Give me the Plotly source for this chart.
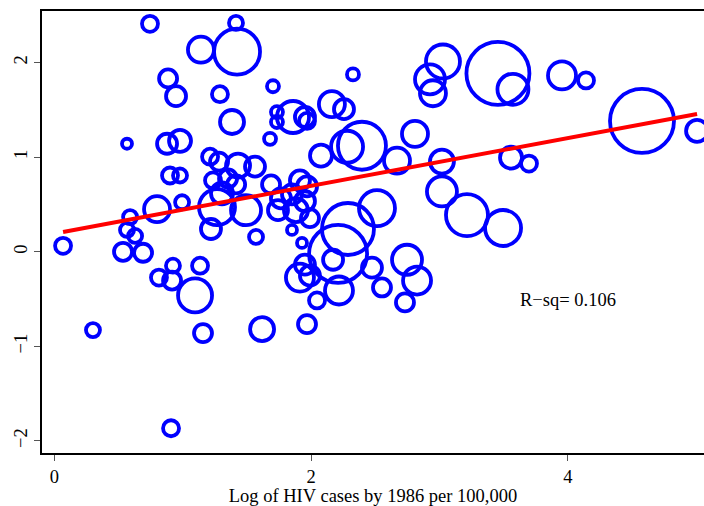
import plotly.graph_objects as go

# Log of HIV cases by 1986 per 100,000 (x), outcome (y), weight (bubble area)
log_hiv = [0.068, 0.301, 0.535, 0.691, 0.566, 0.629, 0.590, 0.800, 0.995, 0.566,
           0.878, 0.979, 0.901, 0.979, 0.745, 0.886, 0.948, 0.909, 0.815, 0.924,
           0.917, 1.096, 1.135, 1.158, 1.415, 1.423, 1.142, 1.290, 1.703, 1.384,
           1.734, 1.734, 1.859, 1.952, 1.968, 2.162, 2.256, 2.326, 1.680, 2.077,
           2.280, 2.396, 2.809, 2.669, 3.019, 3.027, 2.926, 2.949, 3.455, 3.572,
           3.954, 4.141, 4.577, 5.006, 3.557, 3.697, 3.495, 3.214, 3.019, 2.825,
           2.747, 2.731, 2.552, 2.474, 2.513, 2.287, 2.210, 2.217, 2.171, 1.213,
           1.283, 1.431, 1.563, 1.236, 1.353, 1.306, 1.267, 1.493, 1.220, 1.571,
           1.688, 1.765, 1.851, 1.913, 1.968, 1.882, 1.952, 1.991, 1.851, 1.929,
           1.952, 1.913, 1.991, 2.046, 1.968, 1.618, 1.742, 1.416]
outcome = [0.063, -0.828, 0.000, -0.010, 0.231, 0.168, 0.367, 0.451, 0.524, 1.143,
           1.143, 1.174, 0.807, 0.807, 2.411, 1.834, 1.646, -1.866, -0.273, -0.147,
           -0.304, -0.461, -0.147, -0.860, 2.421, 2.117, 2.138, 1.667, 1.751, 1.373,
           1.478, 1.373, 1.426, 1.426, 1.384, 1.562, 1.509, 1.876, 1.195, 1.017,
           1.111, 1.122, 1.247, 0.964, 0.954, 2.013, 1.824, 1.677, 1.887, 1.719,
           1.866, 1.813, 1.384, 1.279, 0.996, 0.933, 0.252, 0.388, 0.639, -0.304,
           -0.084, -0.535, -0.377, -0.168, 0.461, 0.241, -0.021, -0.409, -0.084, 1.006,
           0.954, 0.912, 0.901, 0.755, 0.776, 0.618, 0.472, 0.440, 0.241, 0.157,
           0.713, 0.566, 0.608, 0.755, 0.692, 0.440, 0.535, 0.356, 0.231, 0.094,
           -0.136, -0.273, -0.252, -0.514, -0.765, -0.818, 0.440, 0.713]
weight = [2.56, 1.96, 3.24, 3.24, 1.96, 1.96, 1.96, 6.76, 1.96, 1.00,
          4.00, 4.84, 2.56, 1.96, 2.56, 3.24, 4.00, 2.56, 2.56, 1.96,
          3.24, 11.56, 2.56, 3.24, 1.96, 21.16, 6.76, 2.56, 1.44, 5.76,
          1.44, 1.44, 10.24, 4.00, 2.56, 6.76, 4.00, 1.44, 1.44, 4.84,
          10.24, 23.04, 6.76, 6.76, 5.76, 11.56, 9.00, 6.76, 39.69, 9.61,
          7.84, 2.56, 40.96, 4.84, 4.84, 2.56, 12.96, 17.64, 9.00, 7.84,
          9.00, 3.24, 3.24, 4.00, 12.96, 27.04, 33.64, 7.84, 4.00, 2.56,
          3.24, 5.76, 4.00, 2.56, 3.24, 4.84, 12.96, 9.00, 4.00, 1.96,
          3.24, 4.00, 4.00, 4.00, 4.00, 5.76, 4.00, 3.24, 1.00, 1.00,
          4.00, 7.84, 4.00, 2.56, 3.24, 5.76, 4.00, 3.24]

# fitted line
fit_intercept = 0.193
fit_slope = 0.2525
r_sq_label = "R\u2212sq= 0.106"
x_ticks = [0, 2, 4]
y_ticks = [-2, -1, 0, 1, 2]

fit_x = [min(log_hiv), max(log_hiv)]
fit_y = [fit_intercept + fit_slope * v for v in fit_x]

FONT = "Liberation Serif, Times New Roman, serif"

fig = go.Figure()
fig.add_trace(go.Scatter(
    x=log_hiv, y=outcome, mode="markers",
    marker=dict(symbol="circle-open", size=weight, sizemode="area", sizeref=0.02,
                opacity=1, color="#0000FF", line=dict(width=3.8, color="#0000FF")),
    showlegend=False, hoverinfo="skip"))
fig.add_trace(go.Scatter(
    x=fit_x, y=fit_y, mode="lines",
    line=dict(color="#FF0000", width=4), showlegend=False, hoverinfo="skip"))

fig.add_annotation(x=4.0, y=-0.51, text=r_sq_label, showarrow=False,
                   font=dict(family=FONT, size=18.5, color="black"))

fig.update_layout(
    width=704, height=506,
    margin=dict(l=42, r=0, t=11, b=49),
    paper_bgcolor="white", plot_bgcolor="white",
    font=dict(family=FONT, size=18.5, color="black"),
)
fig.update_xaxes(
    range=[-0.096, 5.06], tickvals=x_ticks, showgrid=False, zeroline=False,
    showline=True, linecolor="black", linewidth=1.5, mirror=True,
    ticks="outside", ticklen=6, tickwidth=1, tickcolor="#555555",
    tickfont=dict(family=FONT, size=18.5),
    title=dict(text="Log of HIV cases by 1986 per 100,000", standoff=6,
               font=dict(family=FONT, size=18.5)))
fig.update_yaxes(
    range=[-2.128, 2.547], tickvals=y_ticks, showgrid=False, zeroline=False,
    showline=True, linecolor="black", linewidth=1.5, mirror=False,
    ticks="outside", ticklen=6, tickwidth=1, tickcolor="#555555",
    tickangle=-90, tickfont=dict(family=FONT, size=18.5))

fig.write_html("out.html", config={"displayModeBar": False},
               post_script="document.body.style.margin='0px';document.body.style.overflow='hidden';")
